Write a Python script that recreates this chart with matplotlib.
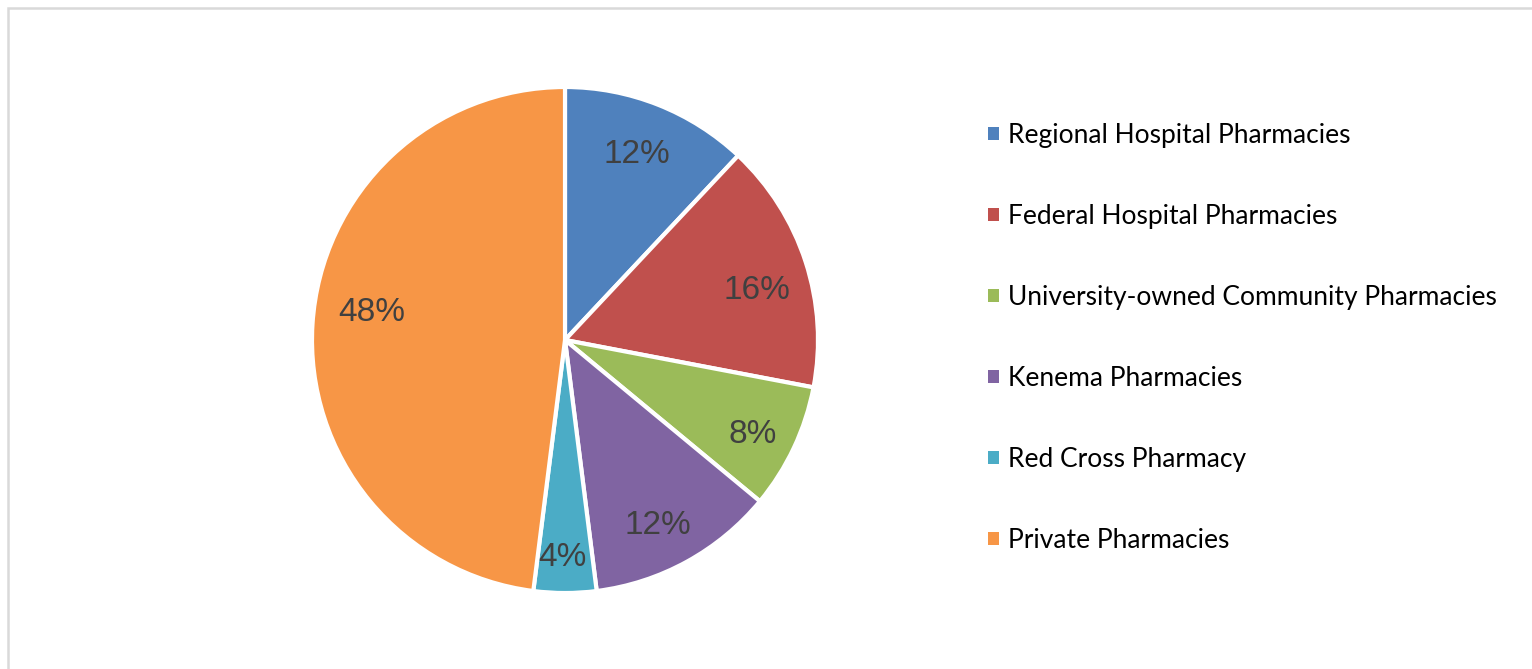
import matplotlib.pyplot as plt
from matplotlib.patches import Rectangle

labels = [
    "Regional Hospital Pharmacies",
    "Federal Hospital Pharmacies",
    "University-owned Community Pharmacies",
    "Kenema Pharmacies",
    "Red Cross Pharmacy",
    "Private Pharmacies",
]
shares = [12, 16, 8, 12, 4, 48]
colors = ["#4f81bd", "#c0504d", "#9bbb59", "#8064a2", "#4bacc6", "#f79646"]

W, H = 1532, 669
fig = plt.figure(figsize=(W / 100, H / 100), dpi=100)

# light chart frame, cut off at right and bottom
fig.patches.append(Rectangle((8 / W, -0.1), 1.2, 1 - 8 / H + 0.1,
                             transform=fig.transFigure, fill=False,
                             edgecolor="#d9d9d9", linewidth=1.8))

cx, cy, r = 565, 340, 253
ax = fig.add_axes([(cx - r) / W, (H - cy - r) / H, 2 * r / W, 2 * r / H])
wedges, texts, autotexts = ax.pie(
    shares, colors=colors, startangle=90, counterclock=False,
    autopct="%d%%", pctdistance=0.79,
    wedgeprops=dict(edgecolor="white", linewidth=3),
    textprops=dict(fontsize=24, color="#404040", family="Liberation Sans"),
)
ax.set_xlim(-1, 1)
ax.set_ylim(-1, 1)
ax.set_aspect("equal")

# nudge the percentage labels into a best-fit spot (pixels, right / down)
nudges = [(-2, 0), (2, 12), (7, 9), (-3, 10), (-3, 18), (6, -15)]
for t, (dx, dy) in zip(autotexts, nudges):
    x, y = t.get_position()
    t.set_position((x + dx / r, y - dy / r))

leg = fig.legend(wedges, labels, loc="upper left",
                 bbox_to_anchor=(988 / W, 1 - 123 / H),
                 frameon=False, prop=dict(family="Lato", size=19),
                 borderpad=0, borderaxespad=0,
                 handlelength=0.4, handleheight=0.4, handletextpad=0.35,
                 labelspacing=2.12)
for h in leg.legend_handles:
    h.set_linewidth(0)

fig.savefig("out.png", dpi=100)
